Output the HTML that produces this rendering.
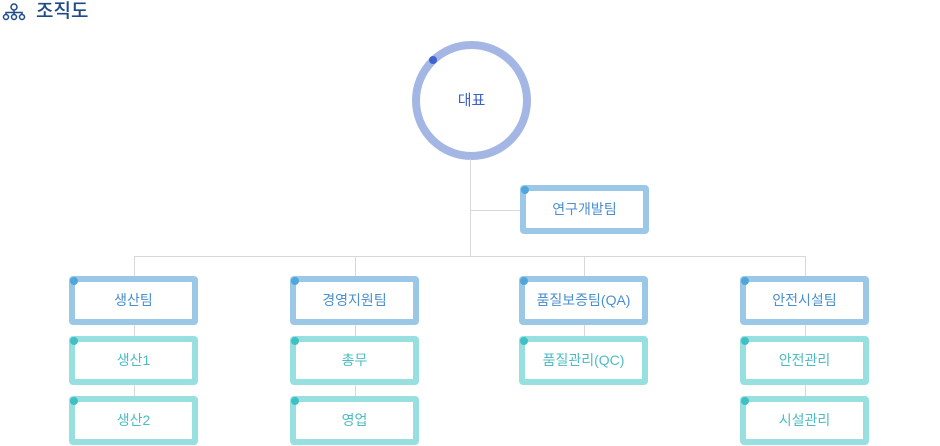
<!DOCTYPE html>
<html><head><meta charset="utf-8"><style>
body{margin:0;width:940px;height:446px;background:#fff;position:relative;overflow:hidden;font-family:"Liberation Sans","Noto Sans CJK KR",sans-serif}
.l{position:absolute;background:#d8d8d8}
.b{position:absolute;width:117px;height:37px;border:6px solid #9cc8e8;border-radius:4px;background:#fff;text-align:center;line-height:37px;font-size:14px;color:#4a8fcf}
.b:before{content:"";position:absolute;left:-5px;top:-5px;width:8px;height:8px;border-radius:50%;background:#4ea6dc}
.s{border-color:#98dfe0;color:#4cbcc4}
.s:before{background:#3fc0c4}
</style></head><body>
<svg style="position:absolute;left:2px;top:3px" width="24" height="18" viewBox="0 0 24 18" fill="none" stroke="#1e4a8a" stroke-width="1.5"><circle cx="12" cy="4" r="3"/><circle cx="4" cy="14" r="2.5"/><circle cx="12" cy="14" r="2.5"/><circle cx="20" cy="14" r="2.5"/><path d="M12 7v4.5M4 11.5V9.5h16v2"/></svg>
<div style="position:absolute;left:36px;top:0;font-size:19px;font-weight:500;color:#1e4a8a;line-height:24px">조직도</div>
<div style="position:absolute;left:412px;top:41px;width:103px;height:103px;border:8px solid #a3b6e4;border-radius:50%;text-align:center;line-height:103px;font-size:15px;color:#3d5fcc">대표</div>
<div style="position:absolute;left:429px;top:56px;width:8px;height:8px;border-radius:50%;background:#3e63cc"></div>
<div class="l" style="left:470px;top:159px;width:1px;height:97px"></div>
<div class="l" style="left:471px;top:210px;width:49px;height:1px"></div>
<div class="l" style="left:134px;top:256px;width:672px;height:1px"></div>
<div class="l" style="left:134px;top:256px;width:1px;height:160px"></div>
<div class="l" style="left:355px;top:256px;width:1px;height:160px"></div>
<div class="l" style="left:584px;top:256px;width:1px;height:100px"></div>
<div class="l" style="left:805px;top:256px;width:1px;height:160px"></div>
<div class="b" style="left:520px;top:185px">연구개발팀</div>
<div class="b" style="left:69px;top:276px">생산팀</div>
<div class="b s" style="left:69px;top:336px">생산1</div>
<div class="b s" style="left:69px;top:396px">생산2</div>
<div class="b" style="left:290px;top:276px">경영지원팀</div>
<div class="b s" style="left:290px;top:336px">총무</div>
<div class="b s" style="left:290px;top:396px">영업</div>
<div class="b" style="left:519px;top:276px">품질보증팀(QA)</div>
<div class="b s" style="left:519px;top:336px">품질관리(QC)</div>
<div class="b" style="left:740px;top:276px">안전시설팀</div>
<div class="b s" style="left:740px;top:336px">안전관리</div>
<div class="b s" style="left:740px;top:396px">시설관리</div>
</body></html>
